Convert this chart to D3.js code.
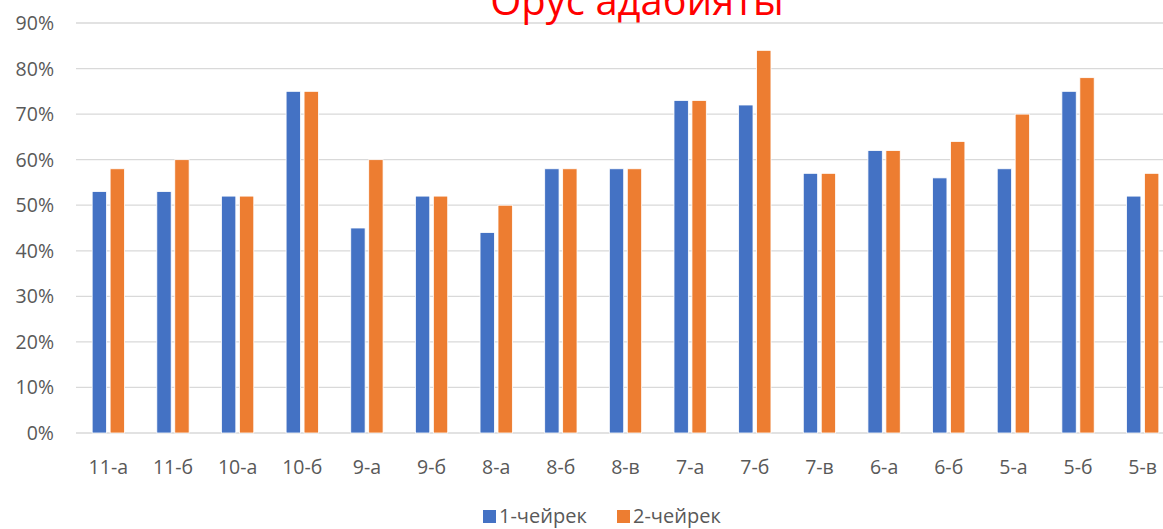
<!DOCTYPE html>
<html>
<head>
<meta charset="utf-8">
<script src="https://cdn.jsdelivr.net/npm/d3@7"></script>
<style>
  body { margin: 0; background: #fff; }
  text { font-family: "Open Sans", "Noto Sans", sans-serif; }
</style>
</head>
<body>
<script>
//Define data
let categories = ['11-а', '11-б', '10-а', '10-б', '9-а', '9-б', '8-а', '8-б', '8-в',
                  '7-а', '7-б', '7-в', '6-а', '6-б', '5-а', '5-б', '5-в'];
let quarter1 = [53, 53, 52, 75, 45, 52, 44, 58, 58, 73, 72, 57, 62, 56, 58, 75, 52];
let quarter2 = [58, 60, 52, 75, 60, 52, 50, 58, 58, 73, 84, 57, 62, 64, 70, 78, 57];
let seriesNames = ['1-чейрек', '2-чейрек'];
let yTicks = [0, 10, 20, 30, 40, 50, 60, 70, 80, 90];

let width = 1163,
    height = 529;

let margin = { top: 23, left: 76, right: -12, bottom: 96 };
let colors = ['#4472c4', '#ed7d31'];

let svg = d3.select('body')
            .append('svg')
            .attr('width', width)
            .attr('height', height)

//scales
let yScale = d3.scaleLinear()
              .domain([0, 90])
              .range([height - margin.bottom, margin.top])

let xScale = d3.scaleBand()
              .domain(categories)
              .range([margin.left, width - margin.right])

let inner = d3.scaleBand()
              .domain([0, 1])
              .range([0, xScale.bandwidth()])
              .paddingInner(0.2)
              .paddingOuter(0.9)

//gridlines
svg.append('g')
  .selectAll('line')
  .data(yTicks)
  .join('line')
  .attr('x1', margin.left)
  .attr('x2', width - margin.right)
  .attr('y1', d => yScale(d))
  .attr('y2', d => yScale(d))
  .attr('stroke', '#d9d9d9')
  .attr('stroke-width', 1.3)

//y labels
svg.append('g')
  .selectAll('text')
  .data(yTicks)
  .join('text')
  .attr('x', 54)
  .attr('y', d => yScale(d) + 7)
  .attr('text-anchor', 'end')
  .attr('fill', '#595959')
  .style('font-size', '19.5px')
  .text(d => d + '%')

//x labels
svg.append('g')
  .selectAll('text')
  .data(categories)
  .join('text')
  .attr('x', d => xScale(d) + xScale.bandwidth() / 2)
  .attr('y', 474)
  .attr('text-anchor', 'middle')
  .attr('fill', '#595959')
  .style('font-size', '19.5px')
  .text(d => d)

//bars
let series = [quarter1, quarter2];
series.forEach((vals, si) => {
  svg.append('g')
    .selectAll('rect')
    .data(vals)
    .join('rect')
    .attr('x', (d, i) => xScale(categories[i]) + inner(si))
    .attr('width', inner.bandwidth())
    .attr('y', d => yScale(d))
    .attr('height', d => yScale(0) - yScale(d))
    .attr('fill', colors[si])
    .attr('stroke', '#fff')
    .attr('stroke-width', 0.8)
})

//title (cut by the top edge, as in the original)
svg.append('text')
  .attr('x', 637)
  .attr('y', 15)
  .attr('text-anchor', 'middle')
  .attr('fill', '#ff0000')
  .style('font-size', '40px')
  .text('Орус адабияты')

//legend
let legendX = [483, 617];
let legend = svg.append('g')
  .selectAll('g')
  .data(seriesNames)
  .join('g')
  .attr('transform', (d, i) => `translate(${legendX[i]}, 510)`)

legend.append('rect')
  .attr('width', 13)
  .attr('height', 13)
  .attr('fill', (d, i) => colors[i])

legend.append('text')
  .attr('x', 16)
  .attr('y', 13)
  .attr('fill', '#595959')
  .style('font-size', '20px')
  .text(d => d)
</script>
</body>
</html>
